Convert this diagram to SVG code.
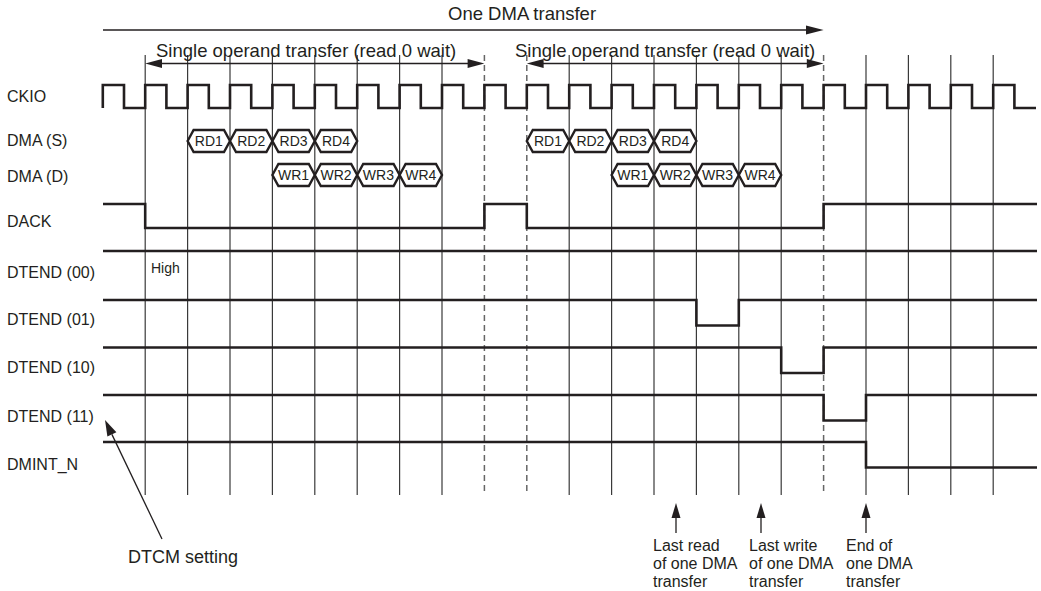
<svg xmlns="http://www.w3.org/2000/svg" width="1041" height="591" viewBox="0 0 1041 591">
<style>
text{font-family:"Liberation Sans",Arial,sans-serif;fill:#231f20}
.lbl{font-size:16px}
.title{font-size:18.5px}
.box{font-size:14px;text-anchor:middle}
.note{font-size:16px}
.grid{stroke:#3a3a3a;stroke-width:1.2;fill:none}
.dash{stroke:#666;stroke-width:1.5;stroke-dasharray:6 4;fill:none}
.sig{stroke:#231f20;stroke-width:2.6;fill:none}
.hex{stroke:#231f20;stroke-width:2.4;fill:#fff}
.arr{stroke:#231f20;stroke-width:1.3;fill:none}
.head{fill:#231f20}
</style>
<rect width="1041" height="591" fill="#fff"/>
<g id="grid">
<path class="grid" d="M145.2,55V495M187.6,55V495M230,55V495M272.4,55V495M314.8,55V495M357.2,55V495M399.6,55V495M442,55V495M569.2,55V495M611.6,55V495M654,55V495M696.4,55V495M738.8,55V495M781.2,55V495M866,55V495M908.4,55V495M950.8,55V495M993.2,55V495"/>
<path class="dash" d="M484.4,55V495M526.8,55V495M823.6,55V495"/>
</g>
<g id="labels">
<text class="lbl" x="7" y="102">CKIO</text>
<text class="lbl" x="7" y="146">DMA (S)</text>
<text class="lbl" x="7" y="182">DMA (D)</text>
<text class="lbl" x="7" y="227">DACK</text>
<text class="lbl" x="7" y="278">DTEND (00)</text>
<text class="lbl" x="7" y="325">DTEND (01)</text>
<text class="lbl" x="7" y="373">DTEND (10)</text>
<text class="lbl" x="7" y="422">DTEND (11)</text>
<text class="lbl" x="7" y="470">DMINT_N</text>
</g>
<g id="ckio">
<path class="sig" d="M102.8,108V85H124V108H145.2V85H166.4V108H187.6V85H208.8V108H230V85H251.2V108H272.4V85H293.6V108H314.8V85H336V108H357.2V85H378.4V108H399.6V85H420.8V108H442V85H463.2V108H484.4V85H505.6V108H526.8V85H548V108H569.2V85H590.4V108H611.6V85H632.8V108H654V85H675.2V108H696.4V85H717.6V108H738.8V85H760V108H781.2V85H802.4V108H823.6V85H844.8V108H866V85H887.2V108H908.4V85H929.6V108H950.8V85H972V108H993.2V85H1014.4V108H1036"/>
</g>
<g id="dma-s">
<polygon class="hex" points="187.6,141 193.6,130 224,130 230,141 224,152 193.6,152"/><text class="box" x="208.8" y="146">RD1</text>
<polygon class="hex" points="230,141 236,130 266.4,130 272.4,141 266.4,152 236,152"/><text class="box" x="251.2" y="146">RD2</text>
<polygon class="hex" points="272.4,141 278.4,130 308.8,130 314.8,141 308.8,152 278.4,152"/><text class="box" x="293.6" y="146">RD3</text>
<polygon class="hex" points="314.8,141 320.8,130 351.2,130 357.2,141 351.2,152 320.8,152"/><text class="box" x="336" y="146">RD4</text>
<polygon class="hex" points="526.8,141 532.8,130 563.2,130 569.2,141 563.2,152 532.8,152"/><text class="box" x="548" y="146">RD1</text>
<polygon class="hex" points="569.2,141 575.2,130 605.6,130 611.6,141 605.6,152 575.2,152"/><text class="box" x="590.4" y="146">RD2</text>
<polygon class="hex" points="611.6,141 617.6,130 648,130 654,141 648,152 617.6,152"/><text class="box" x="632.8" y="146">RD3</text>
<polygon class="hex" points="654,141 660,130 690.4,130 696.4,141 690.4,152 660,152"/><text class="box" x="675.2" y="146">RD4</text>
</g>
<g id="dma-d">
<polygon class="hex" points="272.4,175 278.4,164 308.8,164 314.8,175 308.8,186 278.4,186"/><text class="box" x="293.6" y="180">WR1</text>
<polygon class="hex" points="314.8,175 320.8,164 351.2,164 357.2,175 351.2,186 320.8,186"/><text class="box" x="336" y="180">WR2</text>
<polygon class="hex" points="357.2,175 363.2,164 393.6,164 399.6,175 393.6,186 363.2,186"/><text class="box" x="378.4" y="180">WR3</text>
<polygon class="hex" points="399.6,175 405.6,164 436,164 442,175 436,186 405.6,186"/><text class="box" x="420.8" y="180">WR4</text>
<polygon class="hex" points="611.6,175 617.6,164 648,164 654,175 648,186 617.6,186"/><text class="box" x="632.8" y="180">WR1</text>
<polygon class="hex" points="654,175 660,164 690.4,164 696.4,175 690.4,186 660,186"/><text class="box" x="675.2" y="180">WR2</text>
<polygon class="hex" points="696.4,175 702.4,164 732.8,164 738.8,175 732.8,186 702.4,186"/><text class="box" x="717.6" y="180">WR3</text>
<polygon class="hex" points="738.8,175 744.8,164 775.2,164 781.2,175 775.2,186 744.8,186"/><text class="box" x="760" y="180">WR4</text>
</g>
<g id="dack"><path class="sig" d="M103,204H145.2V228H484.4V204H526.8V228H823.6V204H1037"/></g>
<g id="dtend00"><path class="sig" d="M103,251H1037"/><text x="151" y="273" style="font-size:14px">High</text></g>
<g id="dtend01"><path class="sig" d="M103,300H696.4V325.5H738.8V300H1037"/></g>
<g id="dtend10"><path class="sig" d="M103,347.5H781.2V373H823.6V347.5H1037"/></g>
<g id="dtend11"><path class="sig" d="M103,395H823.6V420.5H866V395H1037"/></g>
<g id="dmint"><path class="sig" d="M103,442H866V467.5H1037"/></g>
<g id="connectors">
<path class="arr" d="M103,30H808"/>
<polygon class="head" points="823.6,30 806,25.5 806,34.5"/>
<path class="arr" d="M160,63.5H470"/>
<polygon class="head" points="145.2,63.5 162,59 162,68"/>
<polygon class="head" points="484.4,63.5 467.6,59 467.6,68"/>
<path class="arr" d="M542,63.5H808"/>
<polygon class="head" points="526.8,63.5 543.6,59 543.6,68"/>
<polygon class="head" points="823.6,63.5 806.8,59 806.8,68"/>
<path class="arr" d="M676,533V516"/>
<polygon class="head" points="676,503 671.5,518 680.5,518"/>
<path class="arr" d="M761,533V516"/>
<polygon class="head" points="761,503 756.5,518 765.5,518"/>
<path class="arr" d="M866,533V516"/>
<polygon class="head" points="866,503 861.5,518 870.5,518"/>
<path class="arr" d="M162,539L111.9,434.4"/>
<polygon class="head" points="105,420 116.4,432.2 107.4,436.6"/>
</g>
<g id="titles">
<text class="title" x="448" y="20">One DMA transfer</text>
<text class="title" x="156" y="57">Single operand transfer (read 0 wait)</text>
<text class="title" x="515" y="57">Single operand transfer (read 0 wait)</text>
</g>
<g id="notes">
<text class="note" x="653" y="551">Last read</text>
<text class="note" x="653" y="569">of one DMA</text>
<text class="note" x="653" y="587">transfer</text>
<text class="note" x="749" y="551">Last write</text>
<text class="note" x="749" y="569">of one DMA</text>
<text class="note" x="749" y="587">transfer</text>
<text class="note" x="846" y="551">End of</text>
<text class="note" x="846" y="569">one DMA</text>
<text class="note" x="846" y="587">transfer</text>
<text x="128" y="563" style="font-size:18px">DTCM setting</text>
</g>
</svg>
